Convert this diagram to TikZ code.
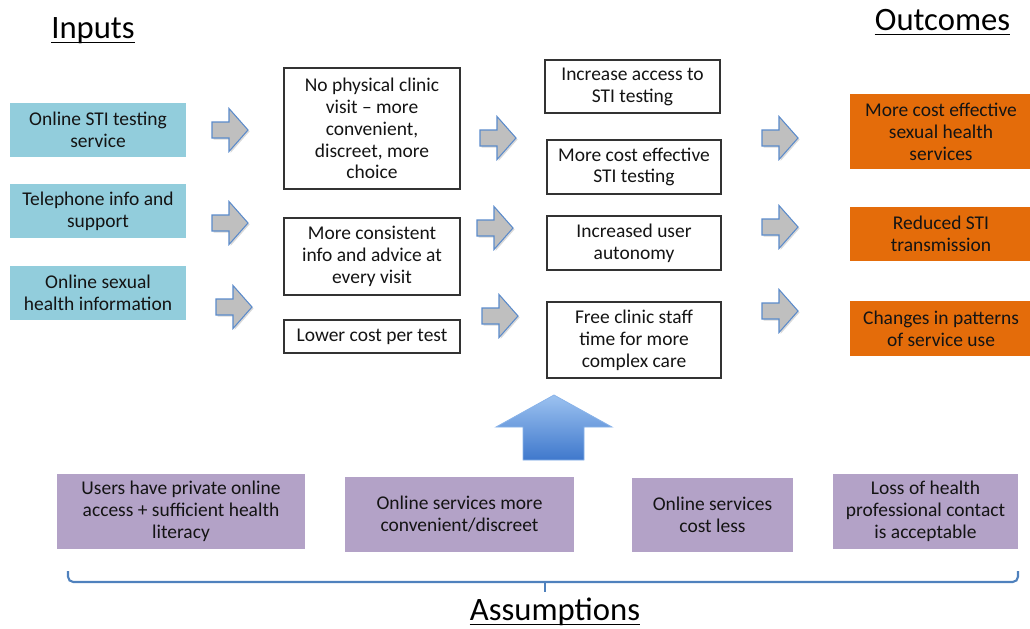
\documentclass[tikz,border=0pt]{standalone}
\usepackage{fontspec}
\setmainfont{Carlito}
\usetikzlibrary{shapes.geometric}
\definecolor{inblue}{HTML}{92CDDC}
\definecolor{outorange}{HTML}{E46C0A}
\definecolor{asspurple}{HTML}{B3A2C7}
\definecolor{argrey}{HTML}{BFBFBF}
\definecolor{arborder}{HTML}{5B8BCB}
\definecolor{bracecol}{HTML}{4F81BD}
\definecolor{bigtop}{HTML}{9CC2F0}
\definecolor{bigbot}{HTML}{3F78CC}
\tikzset{
  txt/.style={align=center, inner sep=0pt, font=\fontsize{14.6}{16.4}\selectfont, text=black!92},
  inbox/.style={txt, fill=inblue, minimum width=132pt, minimum height=40.5pt},
  midbox/.style={txt, draw=black!80, line width=0.9pt, fill=white},
  outbox/.style={txt, fill=outorange, minimum width=136.5pt},
  assbox/.style={txt, fill=asspurple},
  heading/.style={inner sep=0pt, font=\fontsize{24.5}{28}\selectfont, text=black},
  grarr/.pic={
    \fill[black!25, opacity=0.6] (1.5,-6.5) -- (18.5,-6.5) -- (18.5,-20) -- (37.5,1.5) -- (18.5,23) -- (18.5,9.5) -- (1.5,9.5) -- cycle;
    \draw[fill=argrey, draw=arborder, line width=0.8pt, line join=miter]
      (0,-8) -- (17,-8) -- (17,-21.5) -- (36,0) -- (17,21.5) -- (17,8) -- (0,8) -- cycle;
  }
}
\begin{document}
\begin{tikzpicture}[x=0.75pt, y=-0.75pt]
\useasboundingbox (0,0) rectangle (1030,628);

% headings
\node[heading, anchor=base] (hin) at (93,38) {Inputs};
\draw[line width=1.2pt] ([yshift=-3.5pt]hin.base west) -- ([yshift=-3.5pt]hin.base east);
\node[heading, anchor=base] (hout) at (942.5,30) {Outcomes};
\draw[line width=1.2pt] ([yshift=-3.5pt]hout.base west) -- ([yshift=-3.5pt]hout.base east);
\node[heading, anchor=base] (hass) at (555,620) {Assumptions};
\draw[line width=1.2pt] ([yshift=-3.5pt]hass.base west) -- ([yshift=-3.5pt]hass.base east);

% inputs
\node[inbox] (in1) at (98,130) {Online STI testing\\service};
\node[inbox] (in2) at (98,211) {Telephone info and\\support};
\node[inbox] (in3) at (98,293) {Online sexual\\health information};

% middle column 1
\node[midbox, minimum width=132pt, minimum height=90.75pt] (A) at (372,128.5) {No physical clinic\\visit -- more\\convenient,\\discreet, more\\choice};
\node[midbox, minimum width=132pt, minimum height=57.75pt] (B) at (372,256.5) {More consistent\\info and advice at\\every visit};
\node[midbox, minimum width=132pt, minimum height=24.75pt] (C) at (372,336.5) {Lower cost per test};

% middle column 2
\node[midbox, minimum width=131.25pt, minimum height=39.75pt] (D) at (632.5,86.5) {Increase access to\\STI testing};
\node[midbox, minimum width=130.5pt, minimum height=40.5pt] (E) at (634,167) {More cost effective\\STI testing};
\node[midbox, minimum width=130.5pt, minimum height=40.5pt] (F) at (634,243) {Increased user\\autonomy};
\node[midbox, minimum width=130.5pt, minimum height=57pt] (G) at (634,340) {Free clinic staff\\time for more\\complex care};

% outcomes
\node[outbox, minimum height=56.25pt] (H) at (941,131.5) {More cost effective\\sexual health\\services};
\node[outbox, minimum height=40.5pt] (I) at (941,234) {Reduced STI\\transmission};
\node[outbox, minimum height=41.25pt] (J) at (941,328.5) {Changes in patterns\\of service use};

% assumptions
\node[assbox, minimum width=186pt, minimum height=56.25pt] (K) at (181,511.5) {Users have private online\\access + sufficient health\\literacy};
\node[assbox, minimum width=171.75pt, minimum height=56.25pt] (L) at (459.5,514.5) {Online services more\\convenient/discreet};
\node[assbox, minimum width=120.75pt, minimum height=55.5pt] (M) at (712.5,515) {Online services\\cost less};
\node[assbox, minimum width=138.75pt, minimum height=56.25pt] (N) at (925.5,511.5) {Loss of health\\professional contact\\is acceptable};

% grey arrows
\pic at (212,130) {grarr};
\pic at (212,223) {grarr};
\pic at (216,307) {grarr};
\pic at (480,138) {grarr};
\pic at (477,228) {grarr};
\pic at (482,316) {grarr};
\pic at (762,138) {grarr};
\pic at (762,227) {grarr};
\pic at (762,311) {grarr};

% big up arrow
\shade[top color=bigtop, bottom color=bigbot]
  (523,460) -- (523,427) -- (496,427) -- (554,395) -- (612,427) -- (584,427) -- (584,460) -- cycle;
\draw[draw=bigtop!80!bigbot, line width=0.6pt, line join=miter]
  (523,460) -- (523,427) -- (496,427) -- (554,395) -- (612,427) -- (584,427) -- (584,460) -- cycle;

% brace
\coordinate (bl) at (68,571);
\coordinate (br) at (1018,571);
\coordinate (bm) at (545,592);
\draw[bracecol, line width=1.6pt, rounded corners=4pt]
  (bl) -- (68,582) -- (545,582) -- (1018,582) -- (br);
\draw[bracecol, line width=1.6pt] (545,582) -- (bm);
\end{tikzpicture}
\end{document}
